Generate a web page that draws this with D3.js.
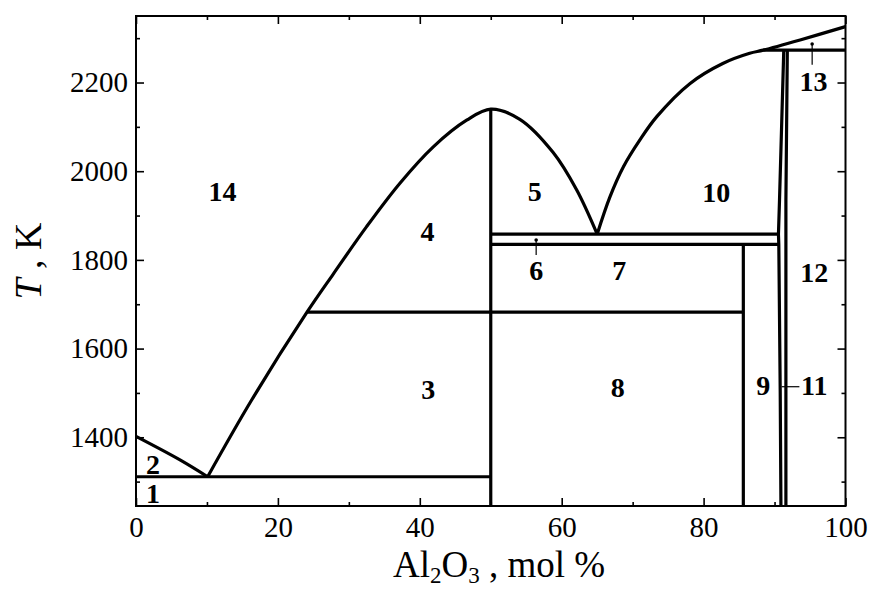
<!DOCTYPE html>
<html>
<head>
<meta charset="utf-8">
<script src="https://cdnjs.cloudflare.com/ajax/libs/d3/7.8.5/d3.min.js"></script>
<style>
    body { margin: 0; background: #fff; }
    svg { display: block; font-family: "Liberation Serif", "Times New Roman", serif; }
    .axis path { display: none; }
    .axis line { stroke: #000; stroke-width: 1.6; }
    .axis text { font-family: "Liberation Serif", "Times New Roman", serif; font-size: 29px; fill: #000; }
    .phase { fill: none; stroke: #000; stroke-width: 3.2; stroke-linejoin: round; }
    .pointer { fill: none; stroke: #000; stroke-width: 1.2; }
    .region { font-size: 28px; font-weight: bold; fill: #000; }
</style>
</head>
<body>
<svg id="canvas"></svg>
<script>
var w = 869
var h = 590

// ########## Data ##########

var xTicks = [0, 20, 40, 60, 80, 100];
var xMinor = [10, 30, 50, 70, 90];
var yTicks = [1400, 1600, 1800, 2000, 2200];
var yMinor = [1300, 1500, 1700, 1900, 2100, 2300];

// liquidus curves, [mol % Al2O3, T]
var liqLeft = [[0, 1402], [6.2, 1349], [10.1, 1311]];
var liqDome = [[10.1, 1311], [16.3, 1484], [24.1, 1682], [27.8, 1768], [32.5, 1875],
    [37.2, 1973], [41.9, 2055], [46.6, 2115], [50, 2140], [54.1, 2117],
    [58.8, 2042], [62.1, 1958], [65, 1858]];
var liqRight = [[65, 1858], [66.8, 1942], [68.7, 2010], [71, 2070], [73.4, 2123],
    [78.1, 2198], [82.7, 2243], [86.5, 2266], [88.4, 2273], [93.6, 2296], [100, 2326]];

// tie lines and phase boundaries
var boundaries = [
    [[0, 1311], [50, 1311]],
    [[24.1, 1682], [85.6, 1682]],
    [[50, 1835], [90.6, 1835]],
    [[50, 1858], [90.55, 1858]],
    [[88.4, 2273], [100, 2273]],
    [[50, 2140], [50, 1245]],
    [[85.6, 1835], [85.6, 1245]],
    [[91.3, 2273], [90.7, 1935], [90.55, 1858], [90.6, 1835], [90.8, 1500], [90.9, 1245]],
    [[91.8, 2273], [91.6, 1935], [91.6, 1245]]
];

// region numbers
var labelText = ["1", "2", "3", "4", "5", "6", "7", "8", "9", "10", "11", "12", "13", "14"];
var labelX = [2.4, 2.4, 41.2, 41.1, 56.2, 56.4, 68.1, 67.9, 88.4, 81.8, 95.6, 95.6, 95.5, 12.2];
var labelT = [1274, 1340, 1509, 1864, 1954, 1777, 1777, 1513, 1518, 1953, 1518, 1773, 2202, 1954];

// small leader lines (first point carries a dot when flagged)
var pointers = [
    { pts: [[56.4, 1845], [56.4, 1811]], dot: true },
    { pts: [[95.3, 2287], [95.3, 2240]], dot: true },
    { pts: [[91.0, 1514], [93.5, 1514]], dot: false }
];

// ########## SVG ##########

var svg = d3.select("#canvas")
    .attr("width", w)
    .attr("height", h);

var x = d3.scaleLinear().domain([0, 100]).range([136, 845.5]);
var y = d3.scaleLinear().domain([1245, 2350]).range([506, 16]);

// ########## Axes ##########

svg.append("g").attr("class", "axis")
    .attr("transform", "translate(0," + y(1245) + ")")
    .call(d3.axisBottom(x).tickValues(xTicks).tickSize(-8).tickPadding(10).tickFormat(d3.format("d")));
svg.append("g").attr("class", "axis")
    .attr("transform", "translate(0," + y(1245) + ")")
    .call(d3.axisBottom(x).tickValues(xMinor).tickSize(-4).tickFormat(""));
svg.append("g").attr("class", "axis")
    .attr("transform", "translate(0," + y(2350) + ")")
    .call(d3.axisTop(x).tickValues(xTicks).tickSize(-8).tickFormat(""));
svg.append("g").attr("class", "axis")
    .attr("transform", "translate(0," + y(2350) + ")")
    .call(d3.axisTop(x).tickValues(xMinor).tickSize(-4).tickFormat(""));

svg.append("g").attr("class", "axis")
    .attr("transform", "translate(" + x(0) + ",0)")
    .call(d3.axisLeft(y).tickValues(yTicks).tickSize(-8).tickPadding(8).tickFormat(d3.format("d")));
svg.append("g").attr("class", "axis")
    .attr("transform", "translate(" + x(0) + ",0)")
    .call(d3.axisLeft(y).tickValues(yMinor).tickSize(-4).tickFormat(""));
svg.append("g").attr("class", "axis")
    .attr("transform", "translate(" + x(100) + ",0)")
    .call(d3.axisRight(y).tickValues(yTicks).tickSize(-8).tickFormat(""));
svg.append("g").attr("class", "axis")
    .attr("transform", "translate(" + x(100) + ",0)")
    .call(d3.axisRight(y).tickValues(yMinor).tickSize(-4).tickFormat(""));

svg.append("rect")
    .attr("x", x(0))
    .attr("y", y(2350))
    .attr("width", x(100) - x(0))
    .attr("height", y(1245) - y(2350))
    .attr("fill", "none")
    .attr("stroke", "#000")
    .attr("stroke-width", 2);

// ########## Phase lines ##########

var smooth = d3.line()
    .x(function (d) { return x(d[0]); })
    .y(function (d) { return y(d[1]); })
    .curve(d3.curveCatmullRom.alpha(0.5));

var straight = d3.line()
    .x(function (d) { return x(d[0]); })
    .y(function (d) { return y(d[1]); });

svg.selectAll(".liq")
    .data([liqLeft, liqDome, liqRight]).enter()
    .append("path")
    .attr("class", "phase liq")
    .attr("d", smooth);

svg.selectAll(".bound")
    .data(boundaries).enter()
    .append("path")
    .attr("class", "phase bound")
    .attr("d", straight);

// ########## Labels ##########

svg.selectAll(".pointer")
    .data(pointers).enter()
    .append("path")
    .attr("class", "pointer")
    .attr("d", function (d) { return straight(d.pts); });

svg.selectAll(".dot")
    .data(pointers.filter(function (d) { return d.dot; })).enter()
    .append("circle")
    .attr("class", "dot")
    .attr("cx", function (d) { return x(d.pts[0][0]); })
    .attr("cy", function (d) { return y(d.pts[0][1]); })
    .attr("r", 1.8);

svg.selectAll(".region")
    .data(labelText).enter()
    .append("text")
    .attr("class", "region")
    .attr("text-anchor", "middle")
    .attr("x", function (d, i) { return x(labelX[i]); })
    .attr("y", function (d, i) { return y(labelT[i]); })
    .attr("dy", "0.35em")
    .text(function (d) { return d; });

// ########## Axis titles ##########

var yTitle = svg.append("text")
    .attr("transform", "translate(41,261) rotate(-90)")
    .attr("text-anchor", "middle")
    .style("font-size", "38px");
yTitle.append("tspan").style("font-style", "italic").text("T");
yTitle.append("tspan").text(" , K");

var xTitle = svg.append("text")
    .attr("x", 499)
    .attr("y", 577)
    .attr("text-anchor", "middle")
    .style("font-size", "37px");
xTitle.append("tspan").text("Al");
xTitle.append("tspan").attr("dy", 6).style("font-size", "23px").text("2");
xTitle.append("tspan").attr("dy", -6).text("O");
xTitle.append("tspan").attr("dy", 6).style("font-size", "23px").text("3");
xTitle.append("tspan").attr("dy", -6).text(" , mol %");
</script>
</body>
</html>
